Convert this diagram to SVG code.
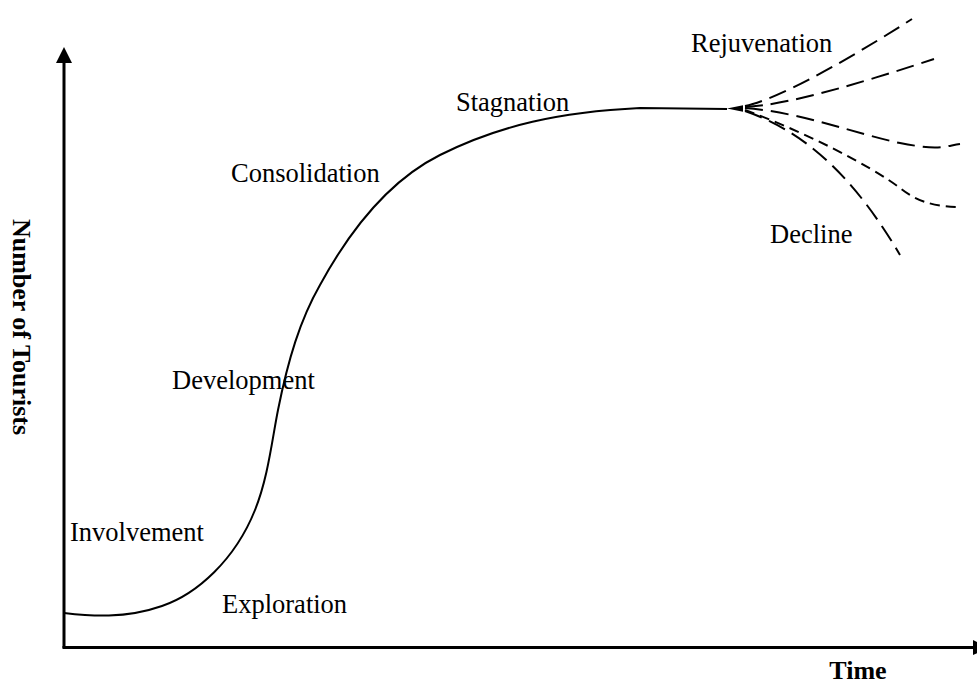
<svg xmlns="http://www.w3.org/2000/svg" width="977" height="684" viewBox="0 0 977 684">
<style>
.lbl{font-family:"Liberation Serif","Times New Roman",serif;font-size:26.5px;fill:#000}
.ax{font-family:"Liberation Serif","Times New Roman",serif;font-size:26px;font-weight:bold;fill:#000}
.axis{stroke:#000;stroke-width:3;fill:none}
.curve{stroke:#000;stroke-width:2;fill:none}
.dl{stroke:#000;stroke-width:2;fill:none;stroke-dasharray:18 8}
.ds{stroke:#000;stroke-width:2;fill:none;stroke-dasharray:10 6}
</style>
<rect width="977" height="684" fill="#fff"/>
<g id="axes">
<line class="axis" x1="64" y1="648" x2="64" y2="60"/>
<polygon points="64,47 56,63 72,63" fill="#000"/>
<line class="axis" x1="62.5" y1="647.5" x2="975" y2="647.5"/>
<polygon points="973,640 989,647.5 973,655" fill="#000"/>
</g>
<g id="connectors">
<path class="curve" d="M64,613 C90,616 125,619 162,606 C197,594 235,560 255,510 C268,478 272,440 278,410 C288,360 300,320 320,285 C350,230 390,180 440,155 C500,125 560,112 640,108 L727,109"/>
<polygon points="727,108.5 743,105.3 743,111.7" fill="#000"/>
<path class="dl" d="M745,106 C775,100 840,65 912,19"/>
<path class="dl" d="M745,107 C790,105 870,80 934,59"/>
<path class="dl" d="M745,108 C800,112 860,135 900,143 S945,146 960,144"/>
<path class="ds" d="M745,110 C800,130 870,165 900,188 C915,200 930,206 957,207"/>
<path class="dl" d="M745,111 C800,130 850,170 900,255"/>
</g>
<g id="labels">
<text class="lbl" x="691" y="52">Rejuvenation</text>
<text class="lbl" x="456" y="111">Stagnation</text>
<text class="lbl" x="231" y="182">Consolidation</text>
<text class="lbl" x="172" y="389">Development</text>
<text class="lbl" x="70" y="541">Involvement</text>
<text class="lbl" x="222" y="613">Exploration</text>
<text class="lbl" x="770" y="243">Decline</text>
<text class="ax" x="858" y="679" text-anchor="middle">Time</text>
<text class="ax" transform="translate(13,327) rotate(90)" text-anchor="middle">Number of Tourists</text>
</g>
</svg>
